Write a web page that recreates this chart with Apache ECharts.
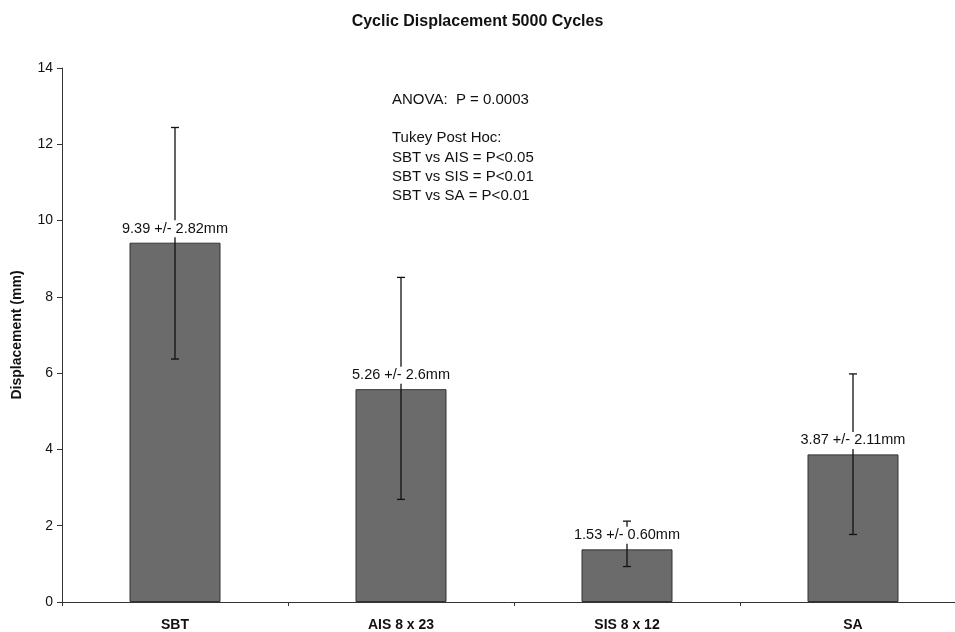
<!DOCTYPE html>
<html>
<head>
<meta charset="utf-8">
<script src="https://cdn.jsdelivr.net/npm/echarts@6/dist/echarts.min.js"></script>
<style>
  html, body { margin: 0; padding: 0; background: #fff; }
  #chart { width: 955px; height: 632px; }
</style>
</head>
<body>
<div id="chart"></div>
<script>
// values
var categories = ['SBT', 'AIS 8 x 23', 'SIS 8 x 12', 'SA'];
var barValues = [9.42, 5.58, 1.38, 3.87];
var errLow = [6.37, 2.69, 0.93, 1.77];
var errHigh = [12.44, 8.51, 2.12, 5.98];
var barLabels = ['9.39 +/- 2.82mm', '5.26 +/- 2.6mm', '1.53 +/- 0.60mm', '3.87 +/- 2.11mm'];
var yTicks = { min: 0, max: 14, interval: 2 };
var notes = ['ANOVA:  P = 0.0003', '', 'Tukey Post Hoc:', 'SBT vs AIS = P<0.05', 'SBT vs SIS = P<0.01', 'SBT vs SA = P<0.01'];

var chart = echarts.init(document.getElementById('chart'));

var errData = categories.map(function (c, i) {
    return [i, errLow[i], errHigh[i], barValues[i]];
});

var option = {
    backgroundColor: '#fff',
    animation: false,
    textStyle: { fontFamily: 'Liberation Sans, Arial, sans-serif' },
    title: {
        text: 'Cyclic Displacement 5000 Cycles',
        left: 'center',
        top: 9,
        textStyle: { fontSize: 16, fontWeight: 'bold', color: '#111' }
    },
    grid: { left: 62, top: 68, bottom: 30, width: 904, outerBoundsMode: 'none' },
    xAxis: {
        type: 'category',
        data: categories,
        axisLine: { lineStyle: { color: '#333', width: 1 } },
        axisTick: { show: true, length: 4, lineStyle: { color: '#333' } },
        axisLabel: { color: '#111', fontSize: 14, fontWeight: 'bold', margin: 16 }
    },
    yAxis: {
        type: 'value',
        min: yTicks.min,
        max: yTicks.max,
        interval: yTicks.interval,
        name: 'Displacement (mm)',
        nameLocation: 'middle',
        nameGap: 38,
        nameTextStyle: { fontSize: 14, fontWeight: 'bold', color: '#111' },
        axisLine: { show: true, lineStyle: { color: '#333', width: 1 } },
        axisTick: { show: true, length: 5, lineStyle: { color: '#333' } },
        axisLabel: { color: '#111', fontSize: 14, margin: 9 },
        splitLine: { show: false }
    },
    graphic: notes.map(function (t, i) {
        return {
            type: 'text',
            left: 392,
            top: 92 + i * 19.3,
            style: { text: t, fill: '#111', font: '15px Liberation Sans, Arial, sans-serif' }
        };
    }),
    series: [
        {
            type: 'bar',
            data: barValues,
            barWidth: 91,
            itemStyle: { color: '#6b6b6b', borderColor: '#333', borderWidth: 1 },
            z: 2
        },
        {
            type: 'custom',
            z: 3,
            data: errData,
            renderItem: function (params, api) {
                var x = api.value(0);
                var lo = api.coord([x, api.value(1)]);
                var hi = api.coord([x, api.value(2)]);
                var top = api.coord([x, api.value(3)]);
                var cap = 4;
                var ls = { stroke: '#111', lineWidth: 1.3 };
                return {
                    type: 'group',
                    children: [
                        { type: 'line', shape: { x1: hi[0], y1: hi[1], x2: lo[0], y2: lo[1] }, style: ls },
                        { type: 'line', shape: { x1: hi[0] - cap, y1: hi[1], x2: hi[0] + cap, y2: hi[1] }, style: ls },
                        { type: 'line', shape: { x1: lo[0] - cap, y1: lo[1], x2: lo[0] + cap, y2: lo[1] }, style: ls },
                        {
                            type: 'text',
                            z2: 10,
                            x: top[0],
                            y: top[1] - 14,
                            style: {
                                text: barLabels[params.dataIndex],
                                fill: '#111',
                                font: '14.5px Liberation Sans, Arial, sans-serif',
                                align: 'center',
                                verticalAlign: 'middle',
                                backgroundColor: '#fff',
                                padding: [1, 1]
                            }
                        }
                    ]
                };
            }
        }
    ]
};

chart.setOption(option);
</script>
</body>
</html>
